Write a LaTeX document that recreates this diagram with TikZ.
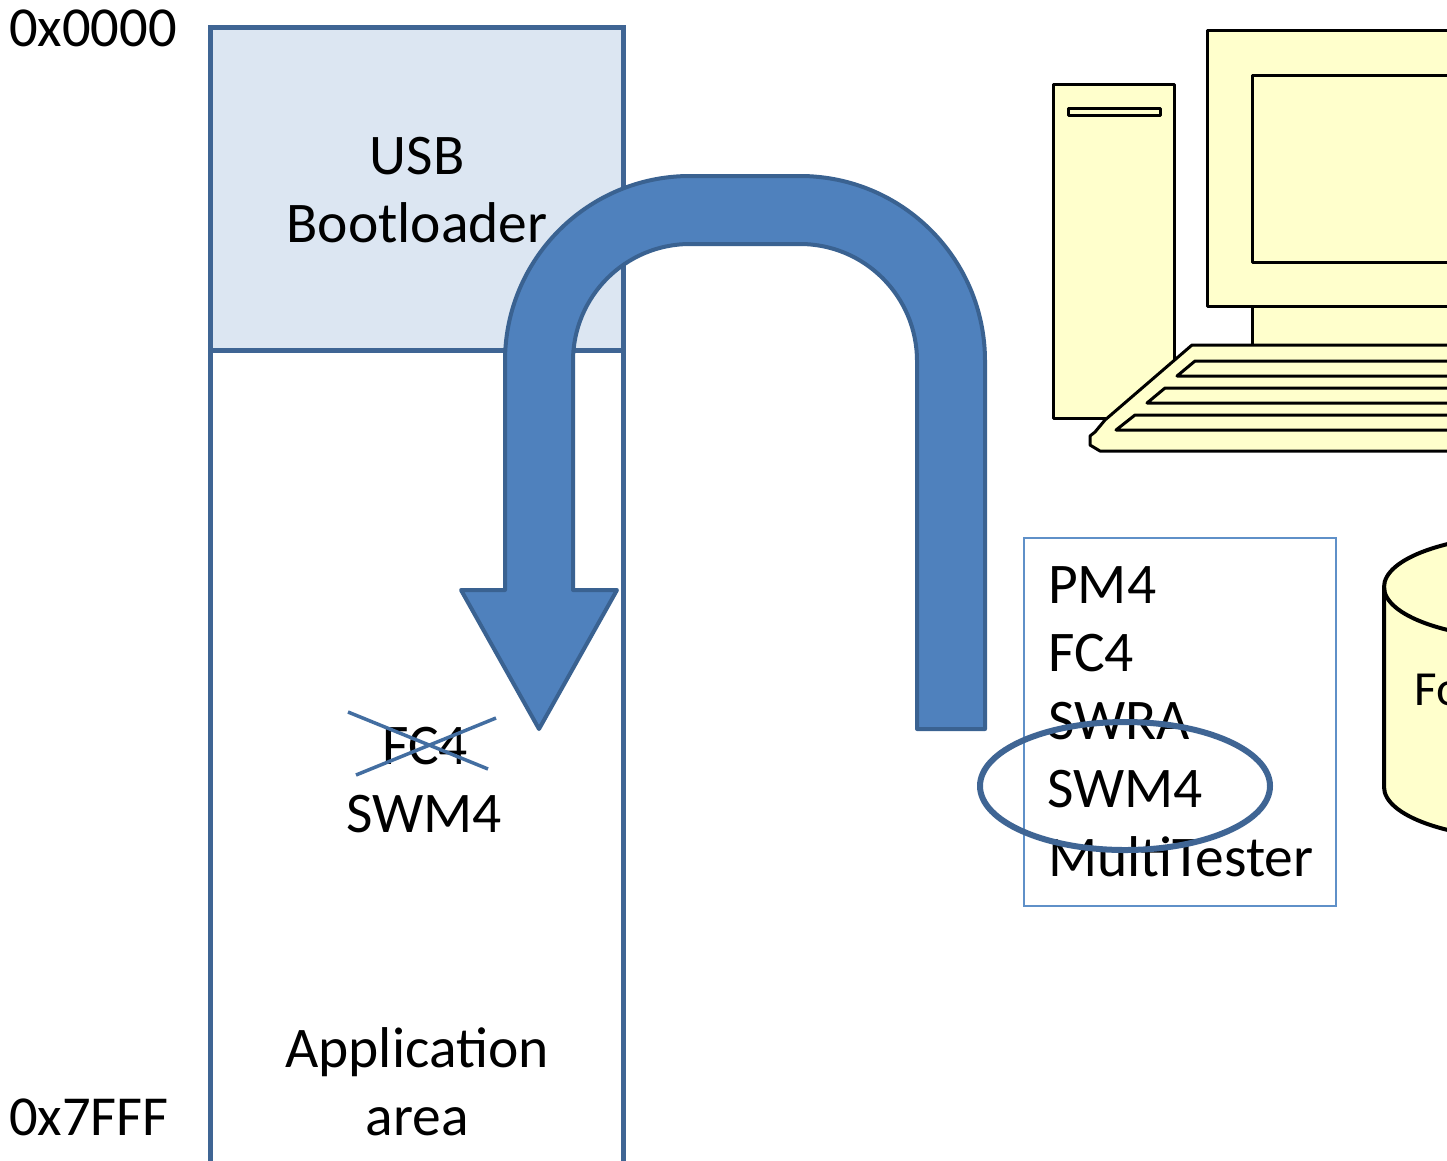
\documentclass[tikz,border=0pt]{standalone}
\usepackage{fontspec}
\setmainfont{Carlito}
\definecolor{memline}{HTML}{3F6594}
\definecolor{memfill}{HTML}{DCE6F2}
\definecolor{arrowfill}{HTML}{4F81BD}
\definecolor{arrowline}{HTML}{3A6291}
\definecolor{listline}{HTML}{5F90C8}
\definecolor{cream}{HTML}{FFFFCC}
\tikzset{
  x=1pt,y=-1pt,
  txt/.style={font=\fontsize{57.5}{68}\selectfont,text=black,inner sep=0pt},
  addr/.style={font=\fontsize{56.5}{68}\selectfont,text=black,inner sep=0pt},
  smalltxt/.style={font=\fontsize{49}{58}\selectfont,text=black,inner sep=0pt},
  mem/.style={draw=memline,line width=5pt},
  pc/.style={draw=black,fill=cream,line width=3pt,line join=round},
  strike/.style={draw=arrowfill!85!black,line width=3.5pt},
}
\begin{document}
\begin{tikzpicture}
\useasboundingbox (0,0) rectangle (1447,1160);
\clip (0,0) rectangle (1447,1160);
\fill[white] (0,0) rectangle (1447,1160);
% memory map
\draw[mem,fill=memfill] (210,27) rectangle (623,350);
\draw[mem] (210,350) -- (210,1175) (623,350) -- (623,1175);
\node[txt,anchor=base] (usb) at (417,174) {USB};
\node[txt,anchor=base] (boot) at (417,242) {Bootloader};
\node[txt,anchor=base] (app) at (417,1067) {Application};
\node[txt,anchor=base] (area) at (417,1135) {area};
\node[addr,anchor=base west] (top) at (9,46) {0x0000};
\node[addr,anchor=base west] (bot) at (9,1135) {0x7FFF};
\node[txt,anchor=base] (fcold) at (425,764) {FC4};
\node[txt,anchor=base] (swmold) at (424,832) {SWM4};
\draw[strike] (348,712) -- (488,769);
\draw[strike] (356,775) -- (496,718);
% bent arrow
\draw[fill=arrowfill,draw=arrowline,line width=4pt,line join=round]
  (917,729) -- (985,729) -- (985,361)
  arc[start angle=0,end angle=-90,radius=185]
  -- (690,176)
  arc[start angle=-90,end angle=-180,radius=185]
  -- (505,590) -- (461,590) -- (539,729) -- (617,590) -- (573,590) -- (573,361)
  arc[start angle=180,end angle=270,radius=117]
  -- (800,244)
  arc[start angle=-90,end angle=0,radius=117]
  -- cycle;
% list
\draw[draw=listline,line width=2.4pt] (1024,538) rectangle (1336,906);
\node[txt,anchor=base west] (pm) at (1048,603) {PM4};
\node[txt,anchor=base west] (fc) at (1048,671) {FC4};
\node[txt,anchor=base west] (swra) at (1048,739) {SWRA};
\node[txt,anchor=base west] (swm) at (1047,807) {SWM4};
\node[txt,anchor=base west] (multi) at (1048,876) {MultiTester};
\draw[draw=memline,line width=6pt] (1125,786) ellipse[x radius=145,y radius=64];
% computer
\draw[pc] (1053,84) rectangle (1174,418);
\draw[pc] (1068,108) rectangle (1160,115);
\draw[pc] (1252,290) rectangle (1500,350);
\draw[pc] (1207,30) rectangle (1500,306);
\draw[pc] (1252,75) rectangle (1500,262);
\draw[pc] (1500,345) -- (1192,345) -- (1105,420) -- (1095,432) -- (1090,436) -- (1090,445) -- (1100,451) -- (1500,451) -- cycle;
\draw[pc] (1500,361) -- (1195,361) -- (1177,376) -- (1500,376);
\draw[pc] (1500,388) -- (1165,388) -- (1147,403) -- (1500,403);
\draw[pc] (1500,415) -- (1135,415) -- (1116,430) -- (1500,430);
% cylinder
\draw[pc,line width=4pt] (1384,587) -- (1384,787)
  arc[start angle=180,end angle=90,x radius=146,y radius=52] -- (1530,535)
  arc[start angle=270,end angle=180,x radius=146,y radius=52] -- cycle;
\draw[draw=black,line width=4pt] (1384,587) arc[start angle=180,end angle=90,x radius=146,y radius=52];
\node[smalltxt,anchor=base west] (fo) at (1414,705) {Fo};
\end{tikzpicture}
\end{document}
